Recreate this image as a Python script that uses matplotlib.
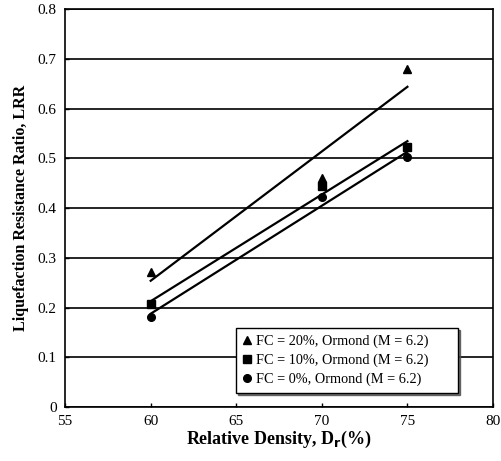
import numpy as np
import matplotlib.pyplot as plt

plt.rcParams['font.family'] = ['Liberation Serif', 'DejaVu Serif']

# relative density (%) and liquefaction resistance ratio for each fines content
dr = [60, 70, 75]
lrr_fc20 = [0.272, 0.46, 0.68]
lrr_fc10 = [0.207, 0.445, 0.523]
lrr_fc0 = [0.182, 0.422, 0.502]

series = [
    (lrr_fc20, '^', 'FC = 20%, Ormond (M = 6.2)'),
    (lrr_fc10, 's', 'FC = 10%, Ormond (M = 6.2)'),
    (lrr_fc0, 'o', 'FC = 0%, Ormond (M = 6.2)'),
]

fig = plt.figure(figsize=(5.01, 4.61), dpi=100)
ax = fig.add_axes([0.130, 0.117, 0.854, 0.863])

x = np.array(dr, dtype=float)
for vals, mk, lab in series:
    ax.plot(x, vals, mk, color='black', markersize=5.5, label=lab, zorder=4)
    # linear trend line through each set
    k, b = np.polyfit(x, vals, 1)
    ax.plot(x[[0, -1]], k * x[[0, -1]] + b, '-', color='black', lw=1.6, zorder=3)

ax.set_xlim(55, 80)
ax.set_ylim(0, 0.8)
ax.set_xticks([55, 60, 65, 70, 75, 80])
ax.set_yticks(np.arange(0, 0.81, 0.1))
ax.set_yticklabels(['0', '0.1', '0.2', '0.3', '0.4', '0.5', '0.6', '0.7', '0.8'])
ax.yaxis.grid(True, color='black', lw=1.2)
ax.set_axisbelow(True)
for s in ax.spines.values():
    s.set_linewidth(1.2)
ax.tick_params(axis='both', labelsize=11, direction='in', length=3, width=1)
ax.tick_params(axis='x', pad=6)
ax.tick_params(axis='y', pad=6)

ax.set_xlabel('Relative Density, D$_\\mathbf{r}$(%)', fontsize=13, fontweight='bold', labelpad=0)
ax.set_ylabel('Liquefaction Resistance Ratio, LRR', fontsize=11.5, fontweight='bold', labelpad=6)

leg = ax.legend(loc='lower left', bbox_to_anchor=(0.40, 0.036, 0.518, 0.161), mode='expand',
                borderaxespad=0, fontsize=10.3, frameon=True, fancybox=False, shadow={'ox': 1.5, 'oy': -1.5, 'alpha': 0.8},
                handlelength=0.6, handletextpad=0.3, borderpad=0.45, labelspacing=0.4)
leg.get_frame().set_edgecolor('black')
leg.get_frame().set_linewidth(1.0)

fig.savefig('out.png', dpi=100)
